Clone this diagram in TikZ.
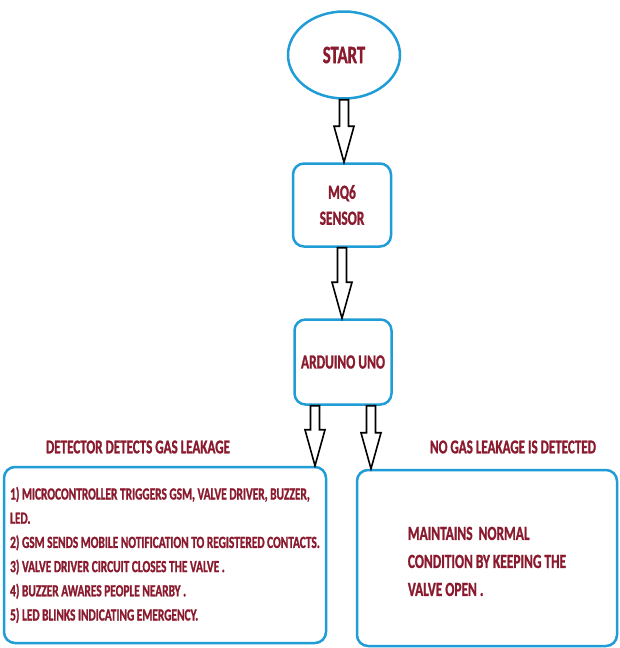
\documentclass[tikz,border=0pt]{standalone}
\usepackage{fontspec}
\newfontfamily\flowfont{Carlito}[FakeStretch=0.67, FakeBold=1.2]
\usetikzlibrary{shapes.geometric, calc}

\definecolor{boxblue}{RGB}{32,156,214}
\definecolor{textred}{RGB}{138,26,46}

%block arrow from the first point down to the level of the second
\def\sw{4.5pt} %shaft half width
\def\hw{10pt}  %head half width
\def\hl{36pt}  %head length
\newcommand{\blockarrow}[2]{%
  \draw[blockarr] let \p1=(#1), \p2=(#2) in
    (\x1-\sw,\y1) -- (\x1+\sw,\y1) -- (\x1+\sw,\y2+\hl) -- (\x1+\hw,\y2+\hl)
    -- (\x1,\y2) -- (\x1-\hw,\y2+\hl) -- (\x1-\sw,\y2+\hl) -- cycle;}

\begin{document}
\begin{tikzpicture}[
  x = 1pt, y = -1pt,
  every node/.style={text=textred, font=\flowfont\bfseries},
  terminal/.style={ellipse, draw=boxblue, line width=2.5pt, minimum width=112pt, minimum height=87pt, font=\flowfont\bfseries\fontsize{25}{28}\selectfont},
  process/.style={rectangle, rounded corners=11pt, draw=boxblue, line width=2.5pt, align=center, font=\flowfont\bfseries\fontsize{20}{26}\selectfont},
  outcome/.style={rectangle, rounded corners=11pt, draw=boxblue, line width=2.5pt, align=left},
  caption/.style={font=\flowfont\bfseries\fontsize{19.5}{24}\selectfont},
  blockarr/.style={draw=black, fill=white, line width=1.6pt, line join=miter}
]
\useasboundingbox (0,0) rectangle (619,648);

%main chain
\node[terminal] (start) at (344,55) {START};
\node[process, minimum width=98pt, minimum height=83pt] (mq6) at (342,205) {MQ6\\SENSOR};
\node[process, minimum width=97pt, minimum height=85pt] (arduino) at (343,362) {ARDUINO UNO};

%outcomes
\node[outcome, minimum width=322pt, minimum height=176pt, font=\flowfont\bfseries\fontsize{17}{24.2}\selectfont] (leak) at (165,555)
  {1) MICROCONTROLLER TRIGGERS GSM, VALVE DRIVER, BUZZER,\\
   LED.\\
   2) GSM SENDS MOBILE NOTIFICATION TO REGISTERED CONTACTS.\\
   3) VALVE DRIVER CIRCUIT CLOSES THE VALVE .\\
   4) BUZZER AWARES PEOPLE NEARBY .\\
   5) LED BLINKS INDICATING EMERGENCY.};
\node[outcome, minimum width=260pt, minimum height=176pt, font=\flowfont\bfseries\fontsize{20}{28}\selectfont] (normal) at (487,558)
  {\rule{0pt}{20pt}MAINTAINS\ \ NORMAL\\
   CONDITION BY KEEPING THE\\
   VALVE OPEN .};

\node[caption] (leaktxt) at (138,447) {DETECTOR DETECTS GAS LEAKAGE};
\node[caption] (normaltxt) at (513,447) {NO GAS LEAKAGE IS DETECTED};

%arrows
\coordinate (outL) at ($(arduino.south)+(-28,0)$);
\coordinate (outR) at ($(arduino.south)+(28,0)$);
\blockarrow{start.south}{mq6.north}
\blockarrow{mq6.south}{arduino.north}
\blockarrow{outL}{outL |- leak.north}
\blockarrow{outR}{outR |- normal.north}

\end{tikzpicture}
\end{document}
